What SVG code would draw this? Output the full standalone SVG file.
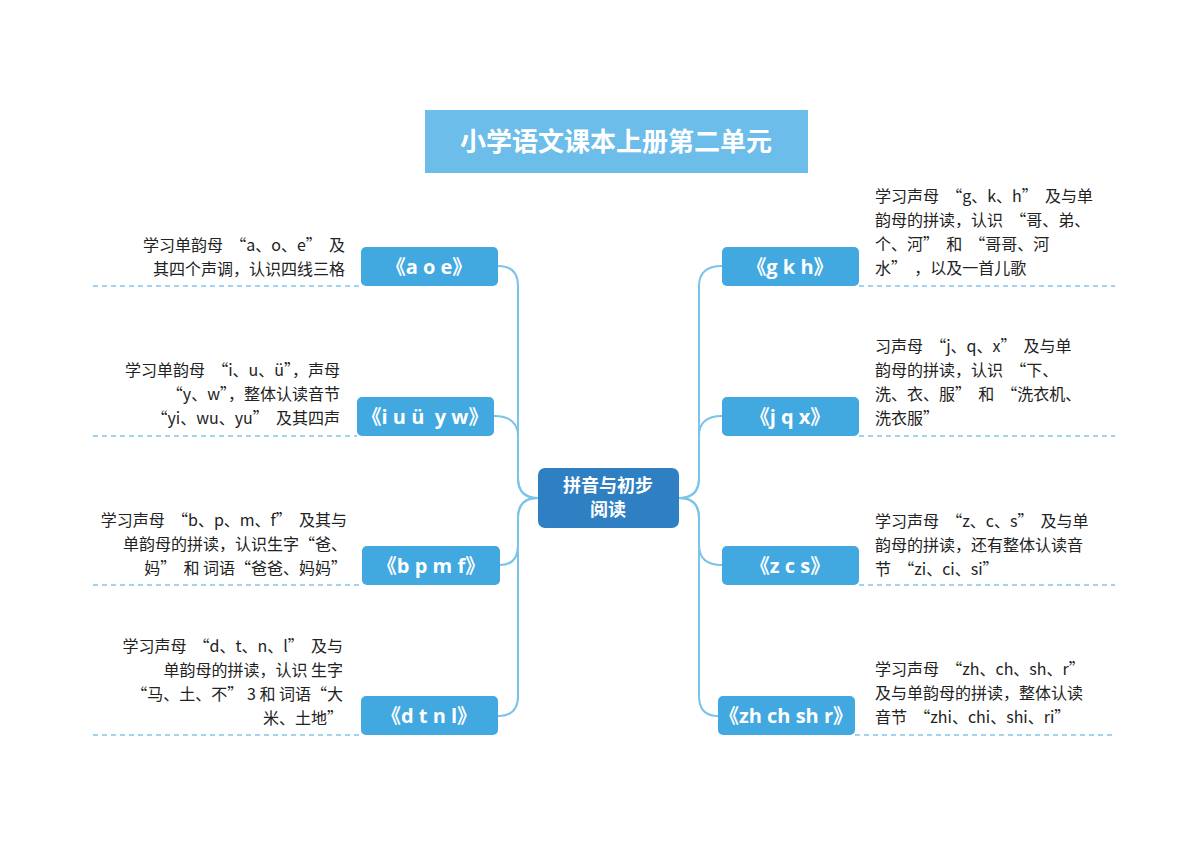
<svg xmlns="http://www.w3.org/2000/svg" width="1200" height="848" viewBox="0 0 1200 848" xml:space="preserve">
<style>
.t{font-family:"Noto Sans CJK SC","Liberation Sans",sans-serif;font-size:16px;fill:#222;white-space:pre}
.r{text-anchor:end}
.n{fill:#41a8e0}
.nl{font-family:"Open Sans","Noto Sans CJK SC",sans-serif;font-size:20px;font-weight:bold;fill:#fff;text-anchor:middle;white-space:pre}
.d{stroke:#41a8e0;stroke-width:1.2;stroke-dasharray:5 4;fill:none}
.c{stroke:#7cc3ea;stroke-width:2;fill:none}
</style>
<rect width="1200" height="848" fill="#fff"/>
<g id="connectors">
<path class="c" d="M538,498 Q518,498 518,478 L518,286 Q518,266 498,266"/>
<path class="c" d="M538,498 Q518,498 518,478 L518,436 Q518,416 494,416"/>
<path class="c" d="M538,498 Q518,498 518,518 L518,545 Q518,565 500,565"/>
<path class="c" d="M538,498 Q518,498 518,518 L518,696 Q518,716 498,716"/>
<path class="c" d="M679,498 Q699,498 699,478 L699,286 Q699,266 722,266"/>
<path class="c" d="M679,498 Q699,498 699,478 L699,436 Q699,416 722,416"/>
<path class="c" d="M679,498 Q699,498 699,518 L699,545 Q699,565 722,565"/>
<path class="c" d="M679,498 Q699,498 699,518 L699,696 Q699,716 718,716"/>
<path class="d" d="M93,286H361M93,436H357M93,585H362M93,735H361M859,286H1115M859,436H1115M859,585H1115M855,735H1115"/>
</g>
<g id="title"><rect x="425" y="110" width="383" height="63" fill="#6cbde9"/>
<text x="616" y="151" font-family="Noto Sans CJK SC,sans-serif" font-size="26" font-weight="bold" fill="#fff" text-anchor="middle">小学语文课本上册第二单元</text></g>
<g id="center"><rect x="538" y="468" width="141" height="60" rx="7" fill="#2f80c3"/>
<text x="608" y="492" font-family="Noto Sans CJK SC,sans-serif" font-size="18" font-weight="bold" fill="#fff" text-anchor="middle">拼音与初步</text>
<text x="608" y="516" font-family="Noto Sans CJK SC,sans-serif" font-size="18" font-weight="bold" fill="#fff" text-anchor="middle">阅读</text></g>
<g id="n-aoe"><rect class="n" x="361" y="247" width="137" height="39" rx="5"/><text class="nl" x="429" y="274">《a o e》</text>
<text class="t r" x="345" y="251">学习单韵母  “a、o、e”  及</text><text class="t r" x="345" y="275">其四个声调，认识四线三格</text></g>
<g id="n-iu"><rect class="n" x="357" y="397" width="137" height="39" rx="5"/><text class="nl" x="425" y="424">《i u ü  y w》</text>
<text class="t r" x="340" y="376">学习单韵母  “i、u、ü”，声母</text><text class="t r" x="340" y="400">“y、w”，整体认读音节</text><text class="t r" x="340" y="424">“yi、wu、yu”  及其四声</text></g>
<g id="n-bpmf"><rect class="n" x="362" y="546" width="138" height="39" rx="5"/><text class="nl" x="431" y="573">《b p m f》</text>
<text class="t r" x="347" y="526">学习声母  “b、p、m、f”  及其与</text><text class="t r" x="347" y="550">单韵母的拼读，认识生字“爸、</text><text class="t r" x="347" y="574">妈”  和 词语“爸爸、妈妈”</text></g>
<g id="n-dtnl"><rect class="n" x="361" y="696" width="137" height="39" rx="5"/><text class="nl" x="429" y="723">《d t n l》</text>
<text class="t r" x="343" y="652">学习声母  “d、t、n、l”  及与</text><text class="t r" x="343" y="676">单韵母的拼读，认识 生字</text><text class="t r" x="343" y="700">“马、土、不” 3 和 词语“大</text><text class="t r" x="343" y="724">米、土地”</text></g>
<g id="n-gkh"><rect class="n" x="722" y="247" width="137" height="39" rx="5"/><text class="nl" x="790" y="274">《g k h》</text>
<text class="t" x="875" y="202">学习声母  “g、k、h”  及与单</text><text class="t" x="875" y="226">韵母的拼读，认识  “哥、弟、</text><text class="t" x="875" y="250">个、河”  和  “哥哥、河</text><text class="t" x="875" y="274">水”  ，以及一首儿歌</text></g>
<g id="n-jqx"><rect class="n" x="722" y="397" width="137" height="39" rx="5"/><text class="nl" x="790" y="424">《j q x》</text>
<text class="t" x="875" y="352">习声母  “j、q、x”  及与单</text><text class="t" x="875" y="376">韵母的拼读，认识  “下、</text><text class="t" x="875" y="400">洗、衣、服”  和  “洗衣机、</text><text class="t" x="875" y="424">洗衣服”</text></g>
<g id="n-zcs"><rect class="n" x="722" y="546" width="137" height="39" rx="5"/><text class="nl" x="790" y="573">《z c s》</text>
<text class="t" x="875" y="527">学习声母  “z、c、s”  及与单</text><text class="t" x="875" y="551">韵母的拼读，还有整体认读音</text><text class="t" x="875" y="575">节  “zi、ci、si”</text></g>
<g id="n-zh"><rect class="n" x="718" y="696" width="137" height="39" rx="5"/><text class="nl" x="786" y="723">《zh ch sh r》</text>
<text class="t" x="875" y="675">学习声母  “zh、ch、sh、r”</text><text class="t" x="875" y="699">及与单韵母的拼读，整体认读</text><text class="t" x="875" y="723">音节  “zhi、chi、shi、ri”</text></g>
</svg>
